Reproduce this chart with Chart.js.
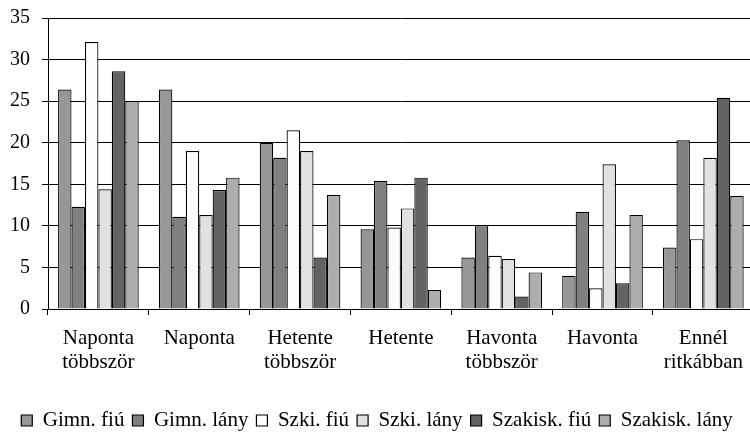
<!DOCTYPE html>
<html>
<head>
<meta charset="utf-8">
<script src="https://cdn.jsdelivr.net/npm/chart.js@4"></script>
<style>
  html, body { margin: 0; padding: 0; background: #fff; overflow: hidden; }
  #wrap { width: 754px; height: 441px; position: relative; }
</style>
</head>
<body>
<div id="wrap"><canvas id="chart"></canvas></div>
<script>
// ── Data ─────────────────────────────────────────────────────────────────
const CATEGORIES = [
  ['Naponta', 'többször'],
  'Naponta',
  ['Hetente', 'többször'],
  'Hetente',
  ['Havonta', 'többször'],
  'Havonta',
  ['Ennél', 'ritkábban']
];
const SERIES_NAMES = ['Gimn. fiú', 'Gimn. lány', 'Szki. fiú', 'Szki. lány', 'Szakisk. fiú', 'Szakisk. lány'];

const gimnFiu     = [26.4, 26.4, 20.0,  9.6, 6.2,  4.0,  7.4];
const gimnLany    = [12.3, 11.1, 18.2, 15.4, 10.1, 11.7, 20.3];
const szkiFiu     = [32.1, 19.0, 21.5,  9.8, 6.4,  2.5,  8.4];
const szkiLany    = [14.4, 11.3, 19.0, 12.1, 6.0, 17.4, 18.2];
const szakiskFiu  = [28.6, 14.3,  6.2, 15.8, 1.5,  3.1, 25.4];
const szakiskLany = [25.0, 15.8, 13.7,  2.3, 4.4, 11.3, 13.6];

const Y_TICKS = [0, 5, 10, 15, 20, 25, 30, 35];

// ── Styling ──────────────────────────────────────────────────────────────
const FILLS = ['#979797', '#808080', '#fcfcfc', '#e1e1e1', '#636363', '#adadad'];
const FONT  = '"Liberation Serif", "Times New Roman", serif';

const datasets = [gimnFiu, gimnLany, szkiFiu, szkiLany, szakiskFiu, szakiskLany].map((vals, i) => ({
  label: SERIES_NAMES[i],
  data: vals,
  backgroundColor: FILLS[i],
  borderColor: '#000',
  borderWidth: 1.2,
  borderSkipped: 'bottom',
  categoryPercentage: 0.8,
  barPercentage: 1.0
}));

new Chart(document.getElementById('chart'), {
  type: 'bar',
  data: { labels: CATEGORIES, datasets },
  options: {
    responsive: true,
    maintainAspectRatio: false,
    animation: false,
    layout: { padding: { top: 18, right: 0, left: 0, bottom: 0 } },
    plugins: {
      tooltip: { enabled: false },
      legend: {
        position: 'bottom',
        align: 'center',
        labels: {
          color: '#000',
          font: { family: FONT, size: 21 },
          boxWidth: 11,
          boxHeight: 11,
          padding: 8,
          useBorderRadius: false
        }
      }
    },
    scales: {
      x: {
        grid: { display: true, drawOnChartArea: false, drawTicks: true, tickLength: 6, color: '#000', offset: true },
        border: { display: true, color: '#000', width: 1 },
        ticks: {
          color: '#000',
          font: { family: FONT, size: 21, lineHeight: 1.15 },
          padding: 11,
          maxRotation: 0,
          autoSkip: false
        },
        afterFit: s => { s.height = 93; }
      },
      y: {
        min: 0,
        max: 35,
        afterBuildTicks: s => { s.ticks = Y_TICKS.map(v => ({ value: v })); },
        grid: { color: '#000', lineWidth: 1, tickLength: 6, drawTicks: true },
        border: { display: true, color: '#000', width: 1 },
        ticks: {
          color: '#000',
          font: { family: FONT, size: 20 },
          padding: 12
        },
        afterFit: s => { s.width = 48; s.paddingTop = 0; s.paddingBottom = 0; }
      }
    }
  }
});
</script>
</body>
</html>
